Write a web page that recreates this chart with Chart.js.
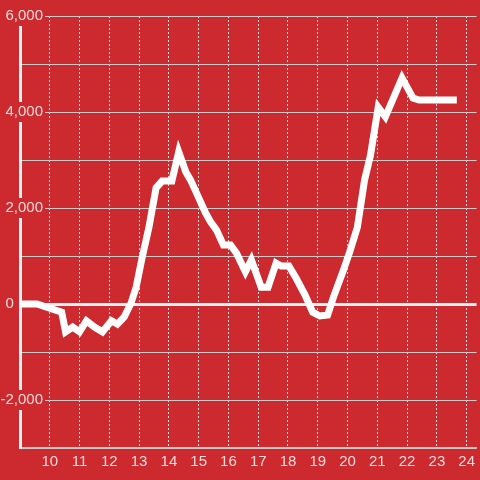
<!DOCTYPE html>
<html><head><meta charset="utf-8">
<style>html,body{margin:0;padding:0;background:#cc2a2e;overflow:hidden}</style>
<script src="https://cdn.jsdelivr.net/npm/chart.js@4"></script>
</head><body>
<canvas id="c" width="480" height="480" style="display:block;width:480px;height:480px"></canvas>
<script>
const hours = [9.0, 9.57, 10.4, 10.53, 10.77, 11.0, 11.23, 11.5, 11.77, 12.07, 12.27, 12.5, 12.73, 12.9, 13.1, 13.33, 13.57, 13.77, 14.1, 14.33, 14.57, 14.73, 14.93, 15.23, 15.4, 15.6, 15.83, 16.07, 16.27, 16.57, 16.77, 17.1, 17.33, 17.6, 17.77, 18.03, 18.27, 18.57, 18.83, 19.07, 19.33, 19.53, 19.83, 20.07, 20.33, 20.57, 20.77, 21.03, 21.27, 21.83, 22.2, 22.4, 23.67];
const values = [0, 0, -170, -580, -480, -580, -350, -480, -580, -350, -420, -270, 20, 350, 960, 1600, 2420, 2560, 2560, 3170, 2750, 2580, 2310, 1900, 1710, 1540, 1230, 1230, 1060, 670, 920, 350, 350, 850, 790, 790, 540, 190, -170, -250, -230, 150, 650, 1080, 1600, 2580, 3100, 4100, 3900, 4710, 4290, 4250, 4250];
const xTicks = [10, 11, 12, 13, 14, 15, 16, 17, 18, 19, 20, 21, 22, 23, 24];
const yTicks = [-3000, -2000, -1000, 0, 1000, 2000, 3000, 4000, 5000, 6000];
const yLabelled = [-2000, 0, 2000, 4000, 6000];

const RED = '#cc2a2e';
const LABEL = '#f4d9d9';
const FONT = {family: '"Liberation Sans", Arial, sans-serif', size: 15};

new Chart(document.getElementById('c'), {
  type: 'line',
  data: {
    datasets: [{
      data: hours.map((h, i) => ({x: h, y: values[i]})),
      borderColor: '#ffffff',
      borderWidth: 7,
      pointRadius: 0,
      tension: 0,
      fill: false
    }]
  },
  options: {
    responsive: false,
    animation: false,
    events: [],
    plugins: {legend: {display: false}, tooltip: {enabled: false}},
    layout: {padding: {top: 16, left: 0, right: 0, bottom: 0}},
    scales: {
      x: {
        type: 'linear', min: 9, max: 24.333,
        afterBuildTicks: s => { s.ticks = xTicks.map(v => ({value: v})); },
        afterFit: s => { s.height = 32; },
        grid: {color: '#dedede', lineWidth: 1, drawTicks: false},
        border: {color: '#c8c8c8', width: 1.5, dash: [2, 2]},
        ticks: {color: LABEL, font: FONT, padding: 5, maxRotation: 0, autoSkip: false,
          callback: v => String(v)}
      },
      y: {
        min: -3000, max: 6000,
        afterBuildTicks: s => { s.ticks = yTicks.map(v => ({value: v})); },
        afterFit: s => { s.width = 20; s._computeLabelArea = () => undefined; },
        grid: {
          drawTicks: false,
          color: c => (c.tick && c.tick.value === 0) ? '#f2f2f2' : '#c8c8c8',
          lineWidth: c => (c.tick && c.tick.value === 0) ? 3 : 1
        },
        border: {color: '#f2f2f2', width: 3},
        ticks: {
          color: LABEL, font: FONT, padding: -23, autoSkip: false,
          callback: v => yLabelled.includes(v) ? (v === 0 ? '0       ' : v.toLocaleString('en-US')) : '',
          showLabelBackdrop: true,
          backdropColor: c => (c.tick && c.tick.value !== 0 && yLabelled.includes(c.tick.value)) ? RED : 'rgba(0,0,0,0)',
          backdropPadding: {top: 1, bottom: 1, left: 2, right: 2}
        }
      }
    }
  }
});
</script>
</body></html>
